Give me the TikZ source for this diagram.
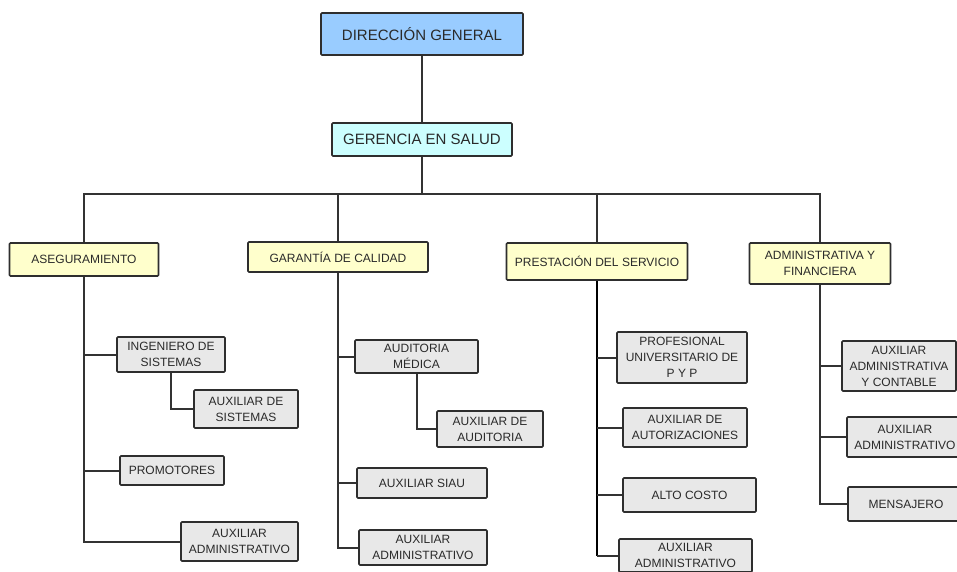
\documentclass[tikz,border=0pt]{standalone}
\usepackage{fontspec}
\setmainfont{Liberation Sans}
\definecolor{topblue}{HTML}{99CCFF}
\definecolor{gerblue}{HTML}{CCFFFF}
\definecolor{areayel}{HTML}{FFFFCC}
\definecolor{unitgray}{HTML}{E8E8E8}
\definecolor{boxline}{HTML}{2E2E2E}
\definecolor{wirecol}{HTML}{333333}
\definecolor{txt}{HTML}{2A2A2A}
\begin{document}
\begin{tikzpicture}[x=1pt,y=-1pt,
  box/.style={draw=boxline, line width=1.6pt, rounded corners=1pt, inner sep=0pt,
    align=center, text=txt, font=\fontsize{12}{16}\selectfont},
  headbox/.style={box, fill=topblue, font=\fontsize{15}{18}\selectfont},
  gerbox/.style={box, fill=gerblue, font=\fontsize{15}{18}\selectfont},
  areabox/.style={box, fill=areayel},
  unitbox/.style={box, fill=unitgray},
  wire/.style={draw=wirecol, line width=2pt},
  boldwire/.style={draw=black, line width=2.6pt}
]
\clip (0,0) rectangle (957,571);
\fill[white] (0,0) rectangle (957,571);

% top of the hierarchy
\node[headbox, minimum width=202pt, minimum height=42pt] (dg) at (422,34) {DIRECCIÓN GENERAL};
\node[gerbox, minimum width=180pt, minimum height=33pt] (gs) at (422,139.5) {GERENCIA EN SALUD};
\coordinate (bar) at (0,194);

% the four areas
\node[areabox, minimum width=149pt, minimum height=33pt] (ase) at (84,259.5) {ASEGURAMIENTO};
\node[areabox, minimum width=180pt, minimum height=30pt] (gar) at (338,257) {GARANTÍA DE CALIDAD};
\node[areabox, minimum width=181pt, minimum height=37pt] (pre) at (597,261.5) {PRESTACIÓN DEL SERVICIO};
\node[areabox, minimum width=141pt, minimum height=41pt] (adm) at (820,263.5) {ADMINISTRATIVA Y\\FINANCIERA};

% Aseguramiento
\node[unitbox, minimum width=108pt, minimum height=35pt] (ing) at (171,354.5) {INGENIERO DE\\SISTEMAS};
\node[unitbox, minimum width=104pt, minimum height=38pt] (auxs) at (246,409) {AUXILIAR DE\\SISTEMAS};
\node[unitbox, minimum width=104pt, minimum height=29pt] (prom) at (172,470.5) {PROMOTORES};
\node[unitbox, minimum width=117pt, minimum height=39pt] (aadmA) at (239.5,541.5) {AUXILIAR\\ADMINISTRATIVO};

% Garantia de calidad
\node[unitbox, minimum width=123pt, minimum height=33pt] (audm) at (416.5,356.5) {AUDITORIA\\MÉDICA};
\node[unitbox, minimum width=106pt, minimum height=36pt] (auxa) at (490,429) {AUXILIAR DE\\AUDITORIA};
\node[unitbox, minimum width=130pt, minimum height=30pt] (siau) at (422,483) {AUXILIAR SIAU};
\node[unitbox, minimum width=128pt, minimum height=35pt] (aadmB) at (423,547.5) {AUXILIAR\\ADMINISTRATIVO};

% Prestacion del servicio
\node[unitbox, minimum width=130pt, minimum height=51pt] (pyp) at (682,357.5) {PROFESIONAL\\UNIVERSITARIO DE\\P Y P};
\node[unitbox, minimum width=124pt, minimum height=39pt] (aut) at (685,427.5) {AUXILIAR DE\\AUTORIZACIONES};
\node[unitbox, minimum width=133pt, minimum height=34pt] (alto) at (689.5,495) {ALTO COSTO};
\node[unitbox, minimum width=133pt, minimum height=33pt] (aadmC) at (685.5,555.5) {AUXILIAR\\ADMINISTRATIVO};

% Administrativa y financiera
\node[unitbox, minimum width=114pt, minimum height=50pt] (aac) at (899,366) {AUXILIAR\\ADMINISTRATIVA\\Y CONTABLE};
\node[unitbox, minimum width=116pt, minimum height=40pt] (aadmD) at (905,437) {AUXILIAR\\ADMINISTRATIVO};
\node[unitbox, minimum width=116pt, minimum height=34pt] (mens) at (906,504) {MENSAJERO};

% main line and distribution bar
\draw[wire] (dg.south) -- (gs.north);
\draw[wire] (gs.south) -- (gs.south |- bar);
\draw[wire] (ase.north) -- (ase.north |- bar) -- (adm.north |- bar) -- (adm.north);
\draw[wire] (gar.north) -- (gar.north |- bar);
\draw[wire] (pre.north) -- (pre.north |- bar);

% Aseguramiento branches
\draw[wire] (ase.south) -- (ase.south |- aadmA.west) -- (aadmA.west);
\draw[wire] (ase.south |- ing.west) -- (ing.west);
\draw[wire] (ase.south |- prom.west) -- (prom.west);
\draw[wire] (ing.south) |- (auxs.west);

% Garantia branches
\draw[wire] (gar.south) -- (gar.south |- aadmB.west) -- (aadmB.west);
\draw[wire] (gar.south |- audm.west) -- (audm.west);
\draw[wire] (gar.south |- siau.west) -- (siau.west);
\draw[wire] (audm.south) |- (auxa.west);

% Prestacion branches
\draw[boldwire] (pre.south) -- (pre.south |- aadmC.west);
\draw[wire] (pre.south |- aadmC.west) -- (aadmC.west);
\draw[wire] (pre.south |- pyp.west) -- (pyp.west);
\draw[wire] (pre.south |- aut.west) -- (aut.west);
\draw[wire] (pre.south |- alto.west) -- (alto.west);

% Administrativa branches
\draw[wire] (adm.south) -- (adm.south |- mens.west) -- (mens.west);
\draw[wire] (adm.south |- aac.west) -- (aac.west);
\draw[wire] (adm.south |- aadmD.west) -- (aadmD.west);
\end{tikzpicture}
\end{document}
